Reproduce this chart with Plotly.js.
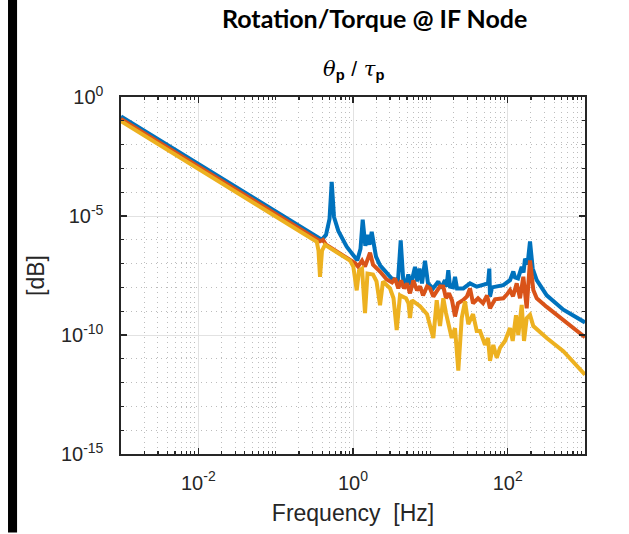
<!DOCTYPE html>
<html>
<head>
<meta charset="utf-8">
<script src="https://cdn.plot.ly/plotly-3.0.1.min.js"></script>
<style>
  html, body { margin: 0; padding: 0; background: #ffffff; }
  #chart { width: 629px; height: 534px; }
</style>
</head>
<body>
<div id="chart"></div>
<script>
// Frequencies (Hz) and magnitudes
const blueFreq = [0.001, 0.2065, 0.394, 0.448, 0.497, 0.5305, 0.568, 0.646, 0.829, 1.137, 1.251, 1.335, 1.443, 1.540, 1.635, 1.746, 1.984, 2.236, 3.167, 3.82, 4.139, 4.473, 4.849, 5.192, 5.576, 6.339, 6.727, 7.249, 7.806, 8.536, 9.33, 10.83, 12.69, 13.75, 15.48, 16.19, 17.08, 17.96, 19.65, 20.85, 22.13, 26.7, 32.6, 39.79, 48.4, 55.7, 57.9, 59.1, 62.8, 87.8, 107.3, 118.3, 124.5, 136.1, 151.9, 160.3, 167.6, 180.6, 194.5, 210.8, 237.5, 319.9, 524.5, 1000];
const blueMag  = [0.151, 3.48e-6, 1.0e-6, 1.62e-6, 7.5e-6, 2.69e-4, 9.08e-6, 2.37e-6, 5.11e-7, 1.37e-7, 4.22e-7, 7.01e-6, 5.62e-7, 1.62e-6, 6.19e-7, 2.16e-6, 1.96e-7, 8.49e-8, 2.37e-8, 1.96e-8, 9.35e-7, 1.78e-8, 1.47e-8, 3.48e-8, 1.25e-8, 7.29e-8, 1.78e-8, 6.19e-8, 1.47e-8, 1.33e-7, 1.47e-8, 9.08e-9, 1.78e-8, 9.08e-9, 2.01e-8, 1.10e-8, 5.26e-8, 1.07e-8, 1.0e-8, 2.79e-8, 9.08e-9, 9.08e-9, 1.47e-8, 1.07e-8, 1.25e-8, 1.47e-8, 6.19e-8, 4.10e-9, 1.0e-8, 1.25e-8, 2.01e-8, 4.64e-8, 2.61e-8, 2.37e-8, 7.29e-8, 4.22e-8, 1.62e-7, 9.08e-8, 8.49e-7, 6.19e-8, 2.01e-8, 4.64e-9, 1.16e-9, 3.38e-10];

const orangeFreq = [0.001, 0.2065, 0.3745, 0.4095, 0.448, 1.062, 1.161, 1.308, 1.43, 1.66, 1.815, 2.236, 2.729, 3.196, 3.494, 3.853, 4.177, 4.567, 4.995, 5.461, 6.026, 6.727, 7.358, 8.043, 9.06, 9.906, 10.93, 11.85, 13.34, 14.72, 15.95, 17.44, 19.07, 20.85, 22.8, 26.7, 29.81, 32.6, 35.64, 41.36, 48.0, 54.1, 59.1, 68.6, 87.8, 98.1, 107.3, 117.3, 130.9, 144.4, 159.4, 176.3, 186.1, 194.5, 214.6, 237.5, 319.9, 524.5, 1000];
const orangeMag  = [0.121, 2.87e-6, 8.66e-7, 1.0e-6, 6.19e-7, 1.05e-7, 7.5e-8, 1.33e-7, 7.5e-8, 2.87e-7, 9.08e-8, 4.64e-8, 2.16e-8, 1.62e-8, 2.37e-8, 9.08e-9, 1.96e-8, 9.08e-9, 1.47e-8, 5.62e-9, 1.96e-8, 7.5e-9, 1.10e-8, 4.64e-9, 1.10e-8, 9.08e-9, 4.10e-9, 6.19e-9, 1.10e-8, 1.07e-8, 3.48e-9, 5.62e-9, 2.87e-9, 6.01e-10, 2.16e-9, 2.96e-9, 4.22e-9, 9.08e-9, 2.16e-9, 3.48e-9, 2.16e-9, 4.64e-9, 1.33e-9, 3.16e-9, 3.48e-9, 5.11e-9, 7.72e-9, 4.22e-9, 1.47e-8, 3.48e-9, 2.79e-8, 1.33e-9, 2.37e-8, 1.37e-7, 7.72e-9, 3.48e-9, 1.51e-9, 4.42e-10, 8.01e-11];

const yellowFreq = [0.001, 0.2065, 0.340, 0.358, 0.3745, 0.3976, 0.4345, 0.915, 1.009, 1.117, 1.196, 1.308, 1.43, 1.54, 1.815, 2.014, 2.236, 2.443, 3.011, 3.341, 3.675, 4.054, 4.849, 5.223, 5.461, 5.797, 7.358, 9.06, 10.93, 12.09, 13.34, 14.72, 15.95, 18.9, 20.85, 23.0, 25.46, 28.09, 30.98, 35.64, 39.79, 43.9, 50.9, 55.7, 59.1, 65.2, 72.2, 79.6, 92.4, 107.3, 116.2, 128.2, 137.3, 151.9, 162.7, 176.3, 194.5, 214.6, 319.9, 524.5, 1000];
const yellowMag  = [0.0971, 2.28e-6, 8.25e-7, 3.48e-7, 2.79e-8, 3.48e-7, 6.19e-7, 1.33e-7, 7.5e-8, 7.5e-9, 5.11e-8, 6.19e-8, 8.25e-10, 3.83e-8, 3.48e-8, 1.78e-8, 1.78e-9, 1.78e-8, 9.08e-9, 3.48e-9, 1.62e-10, 4.64e-9, 3.48e-9, 2.16e-9, 5.11e-10, 2.87e-9, 1.62e-9, 7.5e-10, 7.5e-11, 2.87e-9, 2.37e-10, 3.48e-9, 8.25e-10, 7.5e-11, 1.96e-10, 3.16e-12, 5.11e-10, 2.61e-9, 2.87e-10, 7.5e-10, 1.47e-10, 1.47e-10, 3.83e-11, 7.5e-11, 8.25e-12, 3.83e-11, 1.10e-11, 2.87e-11, 5.62e-11, 1.96e-10, 5.62e-11, 6.81e-10, 1.0e-10, 1.83e-9, 5.62e-11, 5.11e-10, 7.01e-10, 2.37e-10, 7.5e-11, 2.09e-11, 2.16e-12];

const xTickVals = [0.01, 1, 100];
const xTickText = ['10<sup>-2</sup>', '10<sup>0</sup>', '10<sup>2</sup>'];
const yTickVals = [1, 1e-5, 1e-10, 1e-15];
const yTickText = ['10<sup>0</sup>', '10<sup>-5</sup>', '10<sup>-10</sup>', '10<sup>-15</sup>'];

const lineW = 4;
const traces = [
  {x: blueFreq, y: blueMag, type: 'scatter', mode: 'lines', line: {color: '#0072BD', width: lineW}, hoverinfo: 'skip'},
  {x: orangeFreq, y: orangeMag, type: 'scatter', mode: 'lines', line: {color: '#D95319', width: lineW}, hoverinfo: 'skip'},
  {x: yellowFreq, y: yellowMag, type: 'scatter', mode: 'lines', line: {color: '#EDB120', width: lineW}, hoverinfo: 'skip'}
];

const axCol = '#262626';
const sansFam = '"Liberation Sans", Arial, Helvetica, sans-serif';
const tickFont = {family: sansFam, size: 20, color: axCol};
const titleFont = {family: sansFam, size: 23, color: axCol};

const layout = {
  width: 629, height: 534,
  margin: {l: 121, r: 44, t: 97, b: 77},
  paper_bgcolor: '#ffffff', plot_bgcolor: '#ffffff',
  showlegend: false,
  xaxis: {
    type: 'log', range: [-3, 3],
    tickmode: 'array', tickvals: xTickVals, ticktext: xTickText,
    ticks: 'inside', ticklen: 6, tickwidth: 1.2, tickcolor: axCol,
    showline: true, linecolor: axCol, linewidth: 1.6, mirror: 'ticks',
    showgrid: true, gridcolor: '#e2e2e2', gridwidth: 1, zeroline: false,
    tickfont: tickFont, ticklabelstandoff: 10,
    minor: {tickmode: 'linear', dtick: 'D1', ticks: 'inside', ticklen: 3, tickcolor: axCol, showgrid: true, griddash: '1px,4px', gridcolor: '#bdbdbd', gridwidth: 1},
    title: {text: 'Frequency  [Hz]', font: titleFont, standoff: 12},
    automargin: true
  },
  yaxis: {
    type: 'log', range: [-15, 0],
    tickmode: 'array', tickvals: yTickVals, ticktext: yTickText,
    ticks: 'inside', ticklen: 6, tickwidth: 1.2, tickcolor: axCol,
    showline: true, linecolor: axCol, linewidth: 1.6, mirror: 'ticks',
    showgrid: true, gridcolor: '#e2e2e2', gridwidth: 1, zeroline: false,
    tickfont: tickFont, ticklabelstandoff: 12,
    minor: {tickmode: 'linear', dtick: 1, tick0: 0, ticks: 'inside', ticklen: 3, tickcolor: axCol, showgrid: true, griddash: '1px,4px', gridcolor: '#bdbdbd', gridwidth: 1},
    title: {text: '[dB]', font: titleFont, standoff: 10},
    automargin: true
  },
  annotations: [
    {text: '<b>Rotation/Torque @ IF Node</b>', xref: 'paper', yref: 'paper', x: 0.5463, y: 1.222,
     xanchor: 'center', yanchor: 'middle', showarrow: false,
     font: {family: 'Lato, "Open Sans", sans-serif', size: 25, color: '#000000'}},
    {text: '<i>θ</i><sub><span style="font-family:\'Liberation Sans\', Arial, sans-serif;font-weight:bold">p</span></sub> <span style="font-family:\'Liberation Sans\', Arial, sans-serif">/</span> <i>τ</i><sub><span style="font-family:\'Liberation Sans\', Arial, sans-serif;font-weight:bold">p</span></sub>',
     xref: 'paper', yref: 'paper', x: 0.5, y: 1.075,
     xanchor: 'center', yanchor: 'middle', showarrow: false,
     font: {family: '"DejaVu Serif", serif', size: 21, color: '#000000'}}
  ],
  shapes: [
    {type: 'rect', xref: 'paper', yref: 'paper', x0: -0.2435, x1: -0.224, y0: -0.22, y1: 1.28,
     fillcolor: '#000000', line: {width: 0}, layer: 'above'}
  ]
};

Plotly.newPlot('chart', traces, layout, {staticPlot: true, displayModeBar: false});
</script>
</body>
</html>
